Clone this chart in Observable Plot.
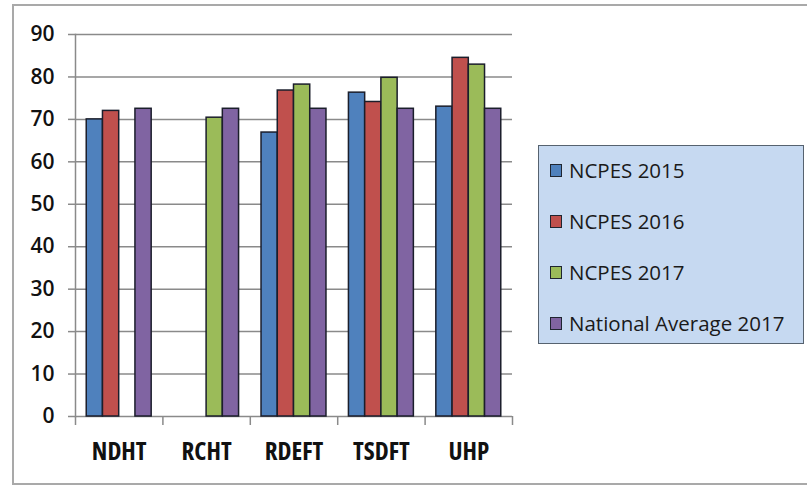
<!DOCTYPE html>
<html><head><meta charset="utf-8">
<script src="https://cdn.jsdelivr.net/npm/d3@7"></script>
<script src="https://cdn.jsdelivr.net/npm/@observablehq/plot@0.6"></script>
<style>
body{margin:0;background:#fff;}
#wrap{position:relative;width:807px;height:486px;overflow:hidden;background:#fff;}
#frame{position:absolute;left:12px;top:4px;width:830px;height:481px;border:2px solid #a9a9a9;box-sizing:border-box;}
.layer{position:absolute;left:0;top:0;}
#axes g[aria-label="x-axis tick label"] text{font-stretch:80%;}
#legend{position:absolute;left:538px;top:145px;width:266px;height:199px;background:#c6d9f1;border:1.5px solid #56626f;box-sizing:border-box;font-family:"Open Sans",sans-serif;font-size:20.5px;color:#1a1a1a;}
.item{position:absolute;left:11px;display:flex;align-items:center;height:24px;white-space:nowrap;}
.sw{width:12px;height:13px;border:1.5px solid #1f2530;margin-right:7px;box-sizing:border-box;}
</style></head>
<body>
<div id="wrap"><div id="frame"></div><div id="axes" class="layer"></div><div id="bars" class="layer"></div><div id="legend"></div></div>
<script>
const categories = ["NDHT", "RCHT", "RDEFT", "TSDFT", "UHP"];
const seriesNames = ["NCPES 2015", "NCPES 2016", "NCPES 2017", "National Average 2017"];
const ncpes2015 = [70.0, null, 66.9, 76.3, 73.0];
const ncpes2016 = [72.0, null, 76.8, 74.1, 84.5];
const ncpes2017 = [null, 70.4, 78.2, 79.8, 82.9];
const national2017 = [72.5, 72.5, 72.5, 72.5, 72.5];
const seriesColors = ["#4f81bd", "#c0504d", "#9bbb59", "#8064a2"];
const yTicks = [0, 10, 20, 30, 40, 50, 60, 70, 80, 90];

const seriesValues = [ncpes2015, ncpes2016, ncpes2017, national2017];
const rows = [];
seriesValues.forEach((vals, s) => vals.forEach((v, i) => {
  if (v != null) rows.push({category: categories[i], series: seriesNames[s], value: v});
}));

const gridColor = "#8a8a8a";
const common = {
  width: 807, height: 486,
  marginLeft: 75, marginRight: 295, marginTop: 34, marginBottom: 70,
  style: {fontFamily: "Open Sans, sans-serif", background: "transparent", color: "#111"},
  y: {domain: [0, 90], label: null, axis: null}
};

function buildAxes(half) {
  return Plot.plot({
    ...common,
    x: {type: "band", domain: categories, padding: 0, round: false, axis: null},
    marks: [
      Plot.ruleY(yTicks.slice(1), {stroke: gridColor, strokeWidth: 1.5}),
      Plot.ruleY([0], {stroke: gridColor, strokeWidth: 1.5}),
      Plot.frame({anchor: "left", stroke: gridColor, strokeWidth: 1.5}),
      Plot.axisY(yTicks, {tickSize: 7, tickPadding: 14, stroke: gridColor, strokeWidth: 1.5, fontSize: 21, fontWeight: 600, fill: "#111", label: null}),
      Plot.axisX({anchor: "bottom", tickSize: 0, tickPadding: 26, fontSize: 25, fontWeight: "bold", fill: "#111", label: null}),
      Plot.axisX(categories, {anchor: "bottom", tickSize: 9, text: null, dx: -half, stroke: gridColor, strokeWidth: 1.5, label: null}),
      Plot.axisX(categories.slice(-1), {anchor: "bottom", tickSize: 9, text: null, dx: half, stroke: gridColor, strokeWidth: 1.5, label: null})
    ]
  });
}
const probe = buildAxes(0);
const axesChart = buildAxes(probe.scale("x").step / 2);
document.getElementById("axes").append(axesChart);

const barsChart = Plot.plot({
  ...common,
  fx: {domain: categories, paddingInner: 0.257, paddingOuter: 0.1285, round: false, label: null, axis: null},
  x: {domain: seriesNames, padding: 0, round: false, axis: null},
  color: {domain: seriesNames, range: seriesColors},
  marks: [
    Plot.barY(rows, {fx: "category", x: "series", y: "value", fill: "series", stroke: "#1b1e2b", strokeWidth: 1.5})
  ]
});
document.getElementById("bars").append(barsChart);

const legend = document.getElementById("legend");
const rowTops = [12, 63, 114, 165];
seriesNames.forEach((name, i) => {
  const it = document.createElement("div");
  it.className = "item";
  it.style.top = rowTops[i] + "px";
  const sw = document.createElement("span");
  sw.className = "sw";
  sw.style.background = seriesColors[i];
  const tx = document.createElement("span");
  tx.textContent = name;
  it.append(sw, tx);
  legend.append(it);
});
</script>
</body></html>
